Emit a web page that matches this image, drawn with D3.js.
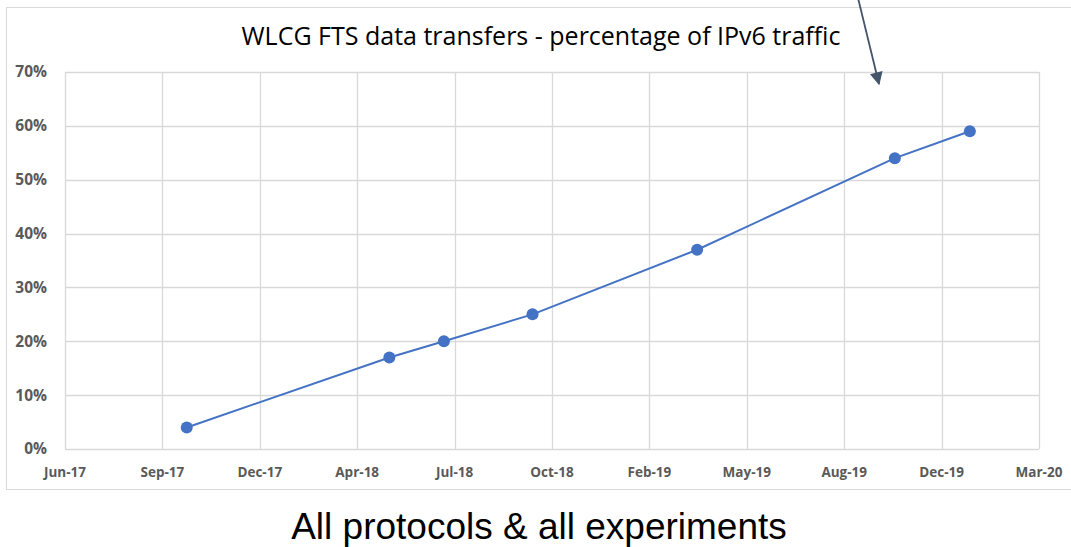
<!DOCTYPE html>
<html>
<head>
<meta charset="utf-8">
<script src="https://cdn.jsdelivr.net/npm/d3@7"></script>
<style>
  body { margin: 0; background: #fff; }
  svg { display: block; }
  .tick-label { font-family: "Open Sans", sans-serif; font-weight: 700; fill: #595959; }
</style>
</head>
<body>
<svg id="chart" width="1071" height="547"></svg>
<script>
const dates = ['2017-10-17', '2018-05-13', '2018-07-08', '2018-10-07', '2019-03-25', '2019-10-14', '2019-12-30'];
const ipv6Share = [4, 17, 20, 25, 37, 54, 59];
const yTicks = [0, 10, 20, 30, 40, 50, 60, 70];
const xStart = '2017-06-14';   // Excel axis min (serial 42900)
const xEnd = '2020-03-10';     // Excel axis max (serial 43900)
const xStepDays = 100;         // major unit

const parse = d3.utcParse('%Y-%m-%d');
const points = dates.map((d, i) => ({ date: parse(d), value: ipv6Share[i] }));

const svg = d3.select('#chart');
const m = { left: 65, right: 1039, top: 72, bottom: 449 };

const x = d3.scaleUtc().domain([parse(xStart), parse(xEnd)]).range([m.left, m.right]);
const y = d3.scaleLinear().domain([0, 70]).range([m.bottom, m.top]);

const xTicks = d3.range(0, 11).map(i => d3.utcDay.offset(parse(xStart), i * xStepDays));
const fmt = d3.utcFormat('%b-%y');

// chart frame
svg.append('rect')
  .attr('x', 6.5).attr('y', 7.5)
  .attr('width', 1080).attr('height', 482)
  .attr('fill', 'none').attr('stroke', '#d9d9d9');

// gridlines
svg.append('g')
  .selectAll('line')
  .data(yTicks)
  .join('line')
  .attr('x1', m.left).attr('x2', m.right)
  .attr('y1', d => Math.round(y(d)) + 0.5).attr('y2', d => Math.round(y(d)) + 0.5)
  .attr('stroke', '#d9d9d9').attr('stroke-width', 1.3);

svg.append('g')
  .selectAll('line')
  .data(xTicks)
  .join('line')
  .attr('x1', d => Math.round(x(d)) + 0.5).attr('x2', d => Math.round(x(d)) + 0.5)
  .attr('y1', m.top).attr('y2', m.bottom)
  .attr('stroke', '#d9d9d9').attr('stroke-width', 1.3);

// tick labels
svg.append('g')
  .selectAll('text')
  .data(yTicks)
  .join('text')
  .attr('class', 'tick-label')
  .attr('font-size', 15.5)
  .attr('x', 47)
  .attr('y', d => y(d))
  .attr('dy', '0.35em')
  .attr('text-anchor', 'end')
  .text(d => d + '%');

svg.append('g')
  .selectAll('text')
  .data(xTicks)
  .join('text')
  .attr('class', 'tick-label')
  .attr('font-size', 13.5)
  .attr('x', d => x(d))
  .attr('y', 477)
  .attr('text-anchor', 'middle')
  .text(d => fmt(d));

// series
svg.append('path')
  .datum(points)
  .attr('fill', 'none')
  .attr('stroke', '#4472c4')
  .attr('stroke-width', 2)
  .attr('d', d3.line().x(d => x(d.date)).y(d => y(d.value)));

svg.append('g')
  .selectAll('circle')
  .data(points)
  .join('circle')
  .attr('cx', d => x(d.date))
  .attr('cy', d => y(d.value))
  .attr('r', 6)
  .attr('fill', '#4472c4');

// title
svg.append('text')
  .attr('x', 541).attr('y', 45)
  .attr('text-anchor', 'middle')
  .attr('font-family', '"Open Sans", sans-serif')
  .attr('font-size', 25)
  .attr('fill', '#000')
  .text('WLCG FTS data transfers - percentage of IPv6 traffic');

// annotation arrow pointing into the chart
svg.append('defs').append('marker')
  .attr('id', 'arrow')
  .attr('viewBox', '0 0 10 10')
  .attr('refX', 9).attr('refY', 5)
  .attr('markerWidth', 15).attr('markerHeight', 13)
  .attr('markerUnits', 'userSpaceOnUse')
  .attr('orient', 'auto')
  .append('path')
  .attr('d', 'M0,0L10,5L0,10Z')
  .attr('fill', '#44546a');

svg.append('line')
  .attr('x1', 858).attr('y1', -2)
  .attr('x2', 879).attr('y2', 84)
  .attr('stroke', '#44546a')
  .attr('stroke-width', 1.8)
  .attr('marker-end', 'url(#arrow)');

// caption below the chart
svg.append('text')
  .attr('x', 539).attr('y', 539)
  .attr('text-anchor', 'middle')
  .attr('font-family', '"Liberation Sans", Arial, sans-serif')
  .attr('font-size', 37)
  .attr('fill', '#000')
  .text('All protocols & all experiments');
</script>
</body>
</html>
